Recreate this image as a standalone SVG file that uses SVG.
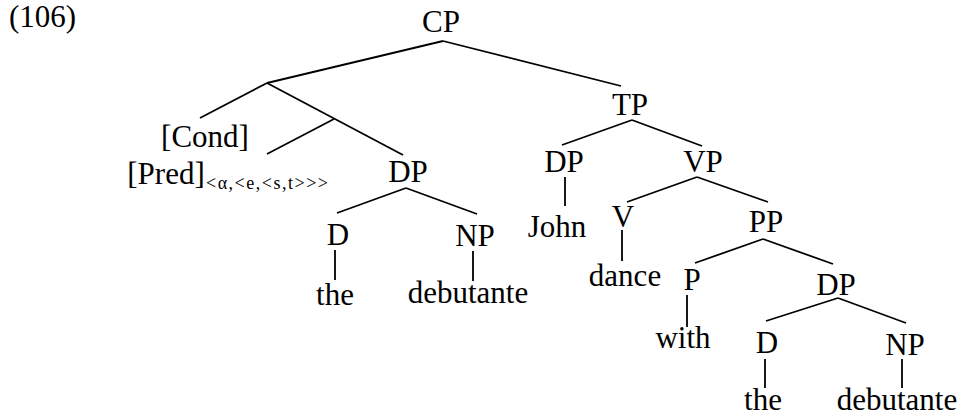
<svg xmlns="http://www.w3.org/2000/svg" width="961" height="418" viewBox="0 0 961 418">
<style>
text{font-family:"Liberation Serif","Times New Roman",serif;font-size:31px;fill:#000;text-anchor:middle}
.sub{font-size:18px;text-anchor:start}
.num{text-anchor:start}
line{stroke:#000;stroke-width:1.8;stroke-linecap:butt}
</style>
<rect width="961" height="418" fill="#fff"/>
<text class="num" x="9" y="27">(106)</text>
<g id="edges">
<line x1="443" y1="41" x2="267" y2="83"/>
<line x1="443" y1="41" x2="621" y2="86"/>
<line x1="267" y1="83" x2="200" y2="118"/>
<line x1="267" y1="83" x2="403" y2="155"/>
<line x1="334" y1="119" x2="267" y2="154"/>
<line x1="406" y1="188" x2="337" y2="213"/>
<line x1="406" y1="188" x2="477" y2="214"/>
<line x1="335" y1="250" x2="335" y2="280"/>
<line x1="473" y1="251" x2="473" y2="281"/>
<line x1="632" y1="120" x2="562" y2="145"/>
<line x1="632" y1="120" x2="702" y2="146"/>
<line x1="565" y1="177" x2="565" y2="206"/>
<line x1="697" y1="177" x2="627" y2="202"/>
<line x1="697" y1="177" x2="768" y2="202"/>
<line x1="622" y1="230" x2="622" y2="261"/>
<line x1="763" y1="239" x2="695" y2="263"/>
<line x1="763" y1="239" x2="833" y2="264"/>
<line x1="687" y1="295" x2="687" y2="327"/>
<line x1="838" y1="298" x2="766" y2="321"/>
<line x1="838" y1="298" x2="906" y2="323"/>
<line x1="765" y1="359" x2="765" y2="388"/>
<line x1="902" y1="359" x2="902" y2="388"/>
</g>
<g id="n-cp"><text x="441" y="32">CP</text></g>
<g id="n-cond"><text x="205" y="147">[Cond]</text></g>
<g id="n-pred"><text x="166" y="184">[Pred]</text><text class="sub" x="206" y="189" textLength="122" lengthAdjust="spacing">&lt;α,&lt;e,&lt;s,t&gt;&gt;&gt;</text></g>
<g id="n-dp1"><text x="408" y="182">DP</text></g>
<g id="n-d1"><text x="338" y="245">D</text></g>
<g id="n-np1"><text x="475" y="246">NP</text></g>
<g id="n-the1"><text x="335" y="305">the</text></g>
<g id="n-deb1"><text x="468" y="303">debutante</text></g>
<g id="n-tp"><text x="630" y="115">TP</text></g>
<g id="n-dp2"><text x="564" y="172">DP</text></g>
<g id="n-john"><text x="557" y="237">John</text></g>
<g id="n-vp"><text x="703" y="172">VP</text></g>
<g id="n-v"><text x="623" y="227">V</text></g>
<g id="n-dance"><text x="625" y="286">dance</text></g>
<g id="n-pp"><text x="766" y="232">PP</text></g>
<g id="n-p"><text x="692" y="290">P</text></g>
<g id="n-with"><text x="683" y="348">with</text></g>
<g id="n-dp3"><text x="836" y="295">DP</text></g>
<g id="n-d2"><text x="767" y="353">D</text></g>
<g id="n-np2"><text x="905" y="355">NP</text></g>
<g id="n-the2"><text x="763" y="410">the</text></g>
<g id="n-deb2"><text x="897" y="410">debutante</text></g>
</svg>
